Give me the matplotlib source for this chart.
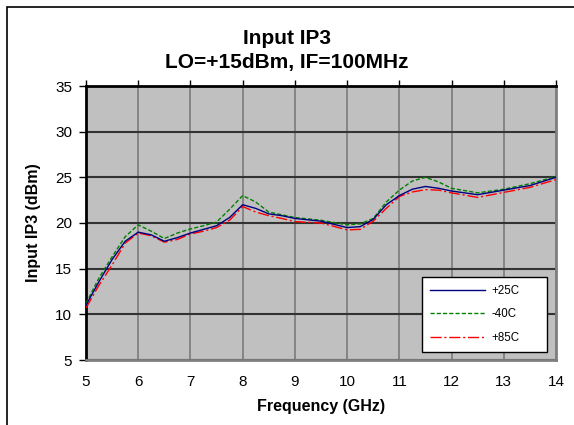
import matplotlib
matplotlib.use("Agg")
import matplotlib.pyplot as plt
from matplotlib.patches import Rectangle

plt.rcParams["font.family"] = ["Liberation Sans", "DejaVu Sans"]

# Frequency points (GHz) and Input IP3 (dBm)
freq = [5.0, 5.25, 5.5, 5.75, 6.0, 6.25, 6.5, 6.75, 7.0, 7.25, 7.5, 7.75, 8.0,
        8.25, 8.5, 8.75, 9.0, 9.5, 10.0, 10.25, 10.5, 10.75, 11.0, 11.25, 11.5,
        11.75, 12.0, 12.5, 13.0, 13.5, 14.0]
ip3_25c = [11.0, 13.6, 16.0, 18.0, 19.0, 18.7, 18.0, 18.4, 18.9, 19.3, 19.7, 20.6, 22.0,
           21.6, 21.0, 20.8, 20.5, 20.2, 19.5, 19.6, 20.4, 22.0, 23.0, 23.7, 24.0,
           23.8, 23.5, 23.1, 23.6, 24.1, 25.0]
ip3_m40c = [11.2, 14.0, 16.3, 18.5, 19.8, 19.1, 18.3, 18.9, 19.35, 19.7, 20.1, 21.5, 23.0,
            22.3, 21.2, 20.9, 20.6, 20.3, 19.8, 19.9, 20.5, 22.3, 23.6, 24.6, 25.0,
            24.5, 23.8, 23.3, 23.7, 24.3, 25.1]
ip3_85c = [10.7, 13.2, 15.4, 17.8, 18.9, 18.6, 17.9, 18.2, 18.8, 19.1, 19.5, 20.3, 21.8,
           21.2, 20.8, 20.5, 20.15, 20.0, 19.25, 19.3, 20.2, 21.6, 22.9, 23.4, 23.65,
           23.6, 23.3, 22.8, 23.35, 23.9, 24.75]

fig = plt.figure(figsize=(5.74, 4.25), dpi=100)
ax = fig.add_axes([86 / 574, 1 - 360 / 425, 470 / 574, 274 / 425])
ax.set_facecolor("#C0C0C0")

# outer chart border (only top/left visible in the crop)
fig.patches.append(Rectangle((7 / 574, -0.1), 1.2, 1.1 - 7 / 425, transform=fig.transFigure,
                             fill=False, edgecolor="black", linewidth=1.2))

ax.plot(freq, ip3_25c, color="#000080", linewidth=1.0, label="+25C", zorder=4)
ax.plot(freq, ip3_m40c, color="#008000", linewidth=1.0, linestyle=(0, (3, 1.5)), label="-40C", zorder=3)
ax.plot(freq, ip3_85c, color="#FF0000", linewidth=1.0, linestyle=(0, (8, 2, 1.5, 2)), label="+85C", zorder=3)

ax.set_xlim(5, 14)
ax.set_ylim(5, 35)
ax.set_xticks(range(5, 15))
ax.set_yticks(range(5, 36, 5))

ax.grid(axis="x", color="#808080", linewidth=1.3)
ax.grid(axis="y", color="#333333", linewidth=1.5)
ax.set_axisbelow(True)

ax.spines["left"].set_color("black")
ax.spines["left"].set_linewidth(2)
ax.spines["top"].set_color("black")
ax.spines["top"].set_linewidth(2)
ax.spines["bottom"].set_color("#808080")
ax.spines["bottom"].set_linewidth(2)
ax.spines["right"].set_color("#808080")
ax.spines["right"].set_linewidth(2)

ax.tick_params(axis="x", top=True, bottom=False, labeltop=False, labelbottom=True,
               direction="out", length=4, width=1, labelsize=11, pad=7)
ax.tick_params(axis="y", direction="out", length=5, width=1, labelsize=11, pad=5)

fig.text(0.5, 0.91, "Input IP3", ha="center", va="center", fontsize=15, fontweight="bold")
fig.text(0.5, 0.854, "LO=+15dBm, IF=100MHz", ha="center", va="center", fontsize=15, fontweight="bold")
ax.set_xlabel("Frequency (GHz)", fontsize=11.5, fontweight="bold", labelpad=7)
ax.set_ylabel("Input IP3 (dBm)", fontsize=11.5, fontweight="bold", labelpad=10)

leg = ax.legend(loc="lower left", bbox_to_anchor=(0.715, 0.029, 0.266, 0.27), mode="expand",
                borderaxespad=0, fontsize=8.3, handlelength=4.8, handletextpad=0.5,
                labelspacing=1.0, borderpad=0.7, fancybox=False, framealpha=1,
                edgecolor="black")
leg.get_frame().set_linewidth(1.0)

fig.savefig("out.png", dpi=100)
